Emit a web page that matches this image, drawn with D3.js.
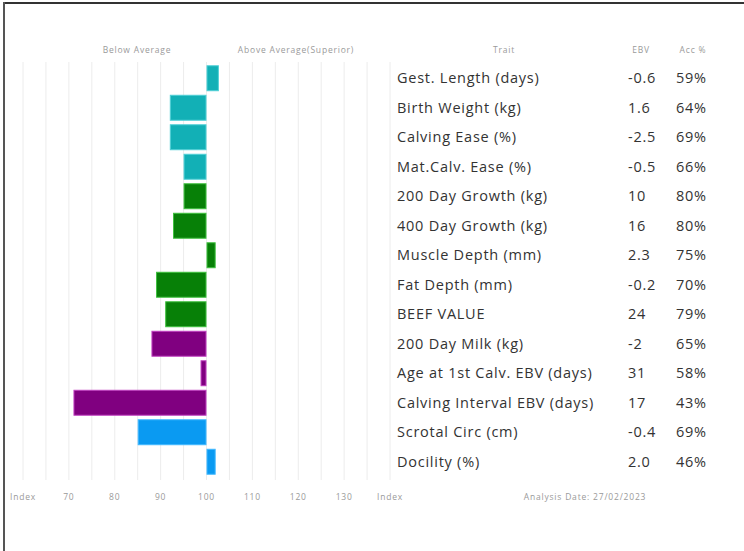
<!DOCTYPE html>
<html>
<head>
<meta charset="utf-8">
<script src="https://cdn.jsdelivr.net/npm/d3@7"></script>
<style>
  body { margin: 0; background: #fff; }
  svg { display: block; font-family: "Open Sans", sans-serif; }
</style>
</head>
<body>
<div id="chart"></div>
<script>
const w = 744;
const h = 551;

const traits = ["Gest. Length (days)", "Birth Weight (kg)", "Calving Ease (%)", "Mat.Calv. Ease (%)",
  "200 Day Growth (kg)", "400 Day Growth (kg)", "Muscle Depth (mm)", "Fat Depth (mm)", "BEEF VALUE",
  "200 Day Milk (kg)", "Age at 1st Calv. EBV (days)", "Calving Interval EBV (days)", "Scrotal Circ (cm)", "Docility (%)"];
const ebv = ["-0.6", "1.6", "-2.5", "-0.5", "10", "16", "2.3", "-0.2", "24", "-2", "31", "17", "-0.4", "2.0"];
const acc = ["59%", "64%", "69%", "66%", "80%", "80%", "75%", "70%", "79%", "65%", "58%", "43%", "69%", "46%"];
const index = [102.7, 92, 92, 95, 95, 92.7, 102, 89, 91, 88, 98.7, 71, 85, 102];
const group = ["a", "a", "a", "a", "b", "b", "b", "b", "b", "c", "c", "c", "d", "d"];
const tickLabels = [70, 80, 90, 100, 110, 120, 130];

const fill = {a: "#12b0b6", b: "#078007", c: "#800080", d: "#0a9af2"};
const edge = {a: "#4fd0d6", b: "#3fc03f", c: "#c040c0", d: "#40b8ff"};

const svg = d3.select("#chart").append("svg")
  .attr("width", w).attr("height", h);

// frame lines on the top and left
svg.append("line").attr("x1", 4).attr("x2", w).attr("y1", 3).attr("y2", 3)
  .attr("stroke", "#333").attr("stroke-width", 2);
svg.append("line").attr("x1", 4).attr("x2", 4).attr("y1", 2).attr("y2", h)
  .attr("stroke", "#555").attr("stroke-width", 2);

const x = d3.scaleLinear().domain([60, 140]).range([23, 390]);
const y = d3.scaleBand().domain(traits).range([63.5, 476.5]).paddingInner(0.12).paddingOuter(0.06);

// grid
svg.append("g").selectAll("line")
  .data(d3.range(60, 141, 5))
  .enter().append("line")
  .attr("x1", (d) => x(d)).attr("x2", (d) => x(d))
  .attr("y1", 62).attr("y2", 480)
  .attr("stroke", "#ececec").attr("stroke-width", 1);

// bars
svg.append("g").selectAll("rect")
  .data(traits)
  .enter().append("rect")
  .attr("x", (d, i) => x(Math.min(100, index[i])) + 0.5)
  .attr("width", (d, i) => Math.abs(x(index[i]) - x(100)) - 1)
  .attr("y", (d) => y(d) + 0.5)
  .attr("height", y.bandwidth() - 1)
  .attr("fill", (d, i) => fill[group[i]])
  .attr("stroke", (d, i) => edge[group[i]])
  .attr("stroke-width", 1);

const small = (sel) => sel.style("font-size", "8.5px").style("letter-spacing", "0.8px").attr("fill", "#9a9a9a");

small(svg.append("text").attr("x", 137).attr("y", 53).attr("text-anchor", "middle")).text("Below Average");
small(svg.append("text").attr("x", 296).attr("y", 53).attr("text-anchor", "middle")).text("Above Average(Superior)");

small(svg.append("text").attr("x", 504).attr("y", 53).attr("text-anchor", "middle")).text("Trait");
small(svg.append("text").attr("x", 641).attr("y", 53).attr("text-anchor", "middle")).text("EBV");
small(svg.append("text").attr("x", 693).attr("y", 53).attr("text-anchor", "middle")).text("Acc %");

// table rows
const rows = svg.append("g").selectAll("g")
  .data(traits)
  .enter().append("g")
  .attr("transform", (d) => "translate(0," + (y(d) + y.bandwidth() / 2 + 5) + ")")
  .style("font-size", "14.5px").style("letter-spacing", "0.75px").attr("fill", "#333");

rows.append("text").attr("x", 397).text((d) => d);
rows.append("text").attr("x", 628).text((d, i) => ebv[i]);
rows.append("text").attr("x", 676).text((d, i) => acc[i]);

// bottom axis
const axis = svg.append("g").attr("transform", "translate(0,500)");
axis.selectAll("text.tick")
  .data(tickLabels)
  .enter().append("text").attr("class", "tick")
  .attr("x", (d) => x(d)).attr("text-anchor", "middle")
  .call(small)
  .text((d) => d);
small(axis.append("text").attr("x", x(60)).attr("text-anchor", "middle")).text("Index");
small(axis.append("text").attr("x", x(140)).attr("text-anchor", "middle")).text("Index");
small(axis.append("text").attr("x", 585).attr("text-anchor", "middle")).text("Analysis Date: 27/02/2023");
</script>
</body>
</html>
